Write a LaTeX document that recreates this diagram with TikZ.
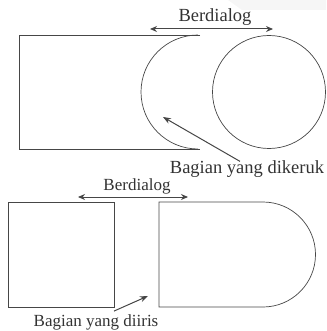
\documentclass[tikz,border=0pt]{standalone}
\usepackage{fontspec}
\setmainfont{Liberation Serif}
\usetikzlibrary{positioning, arrows.meta, calc}
\definecolor{LineGray}{RGB}{70, 70, 70}

\begin{document}
\begin{tikzpicture}[x=1pt, y=-1pt,
    outline/.style={draw=LineGray, line width=0.7pt},
    dialog/.style={LineGray, line width=1pt, {Stealth[length=7pt,width=6pt]}-{Stealth[length=7pt,width=6pt]}},
    pointer/.style={LineGray, line width=1pt, -{Stealth[length=8pt,width=6pt]}},
    lbl/.style={inner sep=0pt, text=black!80, font=\fontsize{17}{20}\selectfont},
    biglbl/.style={lbl, font=\fontsize{18.5}{22}\selectfont}]
    \useasboundingbox (0,0) rectangle (326,331);
    \fill[gray!7] (228,0) -- (326,0) -- (326,10) -- (242,10) -- cycle;

    % Top: dikeruk
    \begin{scope}
      \draw[outline] (200,35) -- (19,35) -- (19,149) -- (200,149);
      \draw[outline] (198,35) arc[start angle=270, end angle=90, radius=57];
      \node[outline, circle, minimum size=113pt, inner sep=0pt] (wheel) at (269,92) {};
      \coordinate (dlgA) at (150,29);
      \coordinate (dlgB) at (273,29);
      \draw[dialog] (dlgA) -- (dlgB);
      \node[biglbl] (dlgtop) at (215,17) {Berdialog};
      \node[biglbl] (keruk) at (247,169) {Bagian yang dikeruk};
      \coordinate (kerukTip) at (163,117);
      \draw[pointer] ($(keruk.north)+(-7,1)$) -- (kerukTip);
    \end{scope}

    % Bottom: diiris
    \begin{scope}
      \draw[outline] (8,202) rectangle (114,307);
      \draw[outline] (263,202) -- (159,202) -- (159,307) -- (263,307)
        arc[start angle=90, end angle=-90, radius=52.5];
      \coordinate (irisA) at (78,197);
      \coordinate (irisB) at (188,197);
      \draw[dialog] (irisA) -- (irisB);
      \node[lbl] (dlgbot) at (137,186) {Berdialog};
      \node[lbl] (iris) at (96,322) {Bagian yang diiris};
      \coordinate (irisTip) at (148,296);
      \draw[pointer] ($(iris.north)+(18,-3)$) -- (irisTip);
    \end{scope}
  \end{tikzpicture}
\end{document}
